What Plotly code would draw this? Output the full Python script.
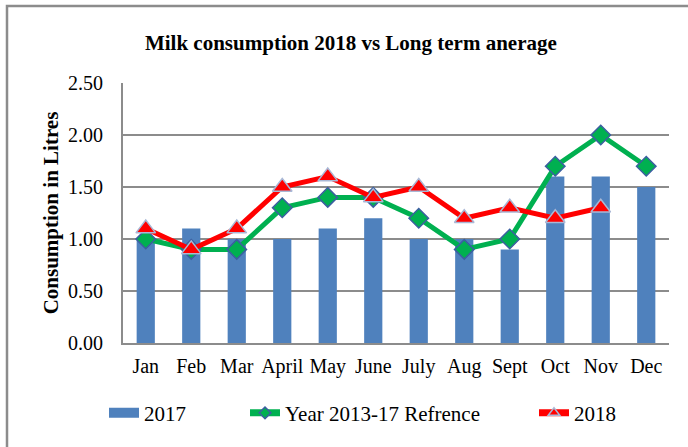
import plotly.graph_objects as go

months = ["Jan", "Feb", "Mar", "April", "May", "June", "July", "Aug", "Sept", "Oct", "Nov", "Dec"]
y2017 = [1.0, 1.1, 1.0, 1.0, 1.1, 1.2, 1.0, 1.0, 0.9, 1.6, 1.6, 1.5]
ref_2013_17 = [1.0, 0.9, 0.9, 1.3, 1.4, 1.4, 1.2, 0.9, 1.0, 1.7, 2.0, 1.7]
y2018 = [1.1, 0.9, 1.1, 1.5, 1.6, 1.4, 1.5, 1.2, 1.3, 1.2, 1.3]
y_ticks = [0.0, 0.5, 1.0, 1.5, 2.0, 2.5]

FONT = "Liberation Serif, Times New Roman, serif"
BAR_COLOR = "#4F81BD"
GREEN = "#00B050"
RED = "#FF0000"

fig = go.Figure()
fig.add_trace(go.Bar(
    x=months, y=y2017, name="2017", showlegend=False,
    marker=dict(color=BAR_COLOR, line=dict(width=0)),
))
fig.add_trace(go.Scatter(
    x=months, y=ref_2013_17, name="Year 2013-17 Refrence", mode="lines+markers",
    showlegend=False,
    line=dict(color=GREEN, width=5),
    marker=dict(symbol="diamond", size=15, color=GREEN,
                line=dict(color="#3B5FA0", width=1.5)),
))
fig.add_trace(go.Scatter(
    x=months[:len(y2018)], y=y2018, name="2018", mode="lines+markers",
    showlegend=False,
    line=dict(color=RED, width=5),
    marker=dict(symbol="triangle-up", size=17, color=RED,
                line=dict(color="#A9B8D6", width=1.5)),
))

# Key entries: flat wide swatches with small markers, each in its own legend box
fig.add_trace(go.Scatter(
    x=[months[0]], y=[None], name="2017", mode="lines", legend="legend",
    line=dict(color=BAR_COLOR, width=10), hoverinfo="skip",
))
fig.add_trace(go.Scatter(
    x=[months[0]], y=[None], name="Year 2013-17 Refrence", mode="lines+markers",
    legend="legend2", hoverinfo="skip",
    line=dict(color=GREEN, width=7),
    marker=dict(symbol="diamond", size=9, color=GREEN,
                line=dict(color="#3B5FA0", width=1.5)),
))
fig.add_trace(go.Scatter(
    x=[months[0]], y=[None], name="2018", mode="lines+markers",
    legend="legend3", hoverinfo="skip",
    line=dict(color=RED, width=7),
    marker=dict(symbol="triangle-up", size=10, color=RED,
                line=dict(color="#A9B8D6", width=1.5)),
))

PLOT_L, PLOT_W, PLOT_B, PLOT_H = 123, 546, 343, 260


def legend_at(px):
    return dict(orientation="h", x=(px - PLOT_L) / PLOT_W, xanchor="left",
                y=-0.27, yanchor="middle", font=dict(family=FONT, size=21),
                bgcolor="rgba(0,0,0,0)")


fig.update_layout(
    width=688, height=447,
    margin=dict(l=PLOT_L, r=19, t=83, b=104),
    paper_bgcolor="white", plot_bgcolor="white",
    font=dict(family=FONT, size=20, color="black"),
    bargap=0.6,
    title=dict(text="<b>Milk consumption 2018 vs Long term anerage</b>",
               x=0.51, xanchor="center", y=0.905, yanchor="middle",
               font=dict(family=FONT, size=21, color="black")),
    xaxis=dict(showgrid=False, showline=True, linecolor="#8C8C8C", linewidth=2,
               ticks="", tickfont=dict(size=20), range=[-0.5, 11.5],
               ticklabelstandoff=4),
    yaxis=dict(range=[0, 2.5], tickvals=y_ticks, tickformat=".2f",
               showgrid=True, gridcolor="#8C8C8C", gridwidth=1.5,
               showline=True, linecolor="#8C8C8C", linewidth=2,
               ticks="", tickfont=dict(size=20), ticklabelstandoff=14,
               title=dict(text="<b>Consumption in Litres</b>",
                          font=dict(family=FONT, size=21), standoff=4),
               zeroline=False),
    legend=legend_at(104),
    legend2=legend_at(245),
    legend3=legend_at(534),
    showlegend=True,
    # chart-area frame; its right and bottom edges run off the page
    shapes=[dict(type="rect", xref="paper", yref="paper",
                 x0=(7 - PLOT_L) / PLOT_W, x1=1.6, y0=-0.8, y1=(PLOT_B - 6) / PLOT_H,
                 line=dict(color="#8C8C8C", width=2.5), fillcolor="rgba(0,0,0,0)",
                 layer="below")],
)

fig.write_html("out.html")
